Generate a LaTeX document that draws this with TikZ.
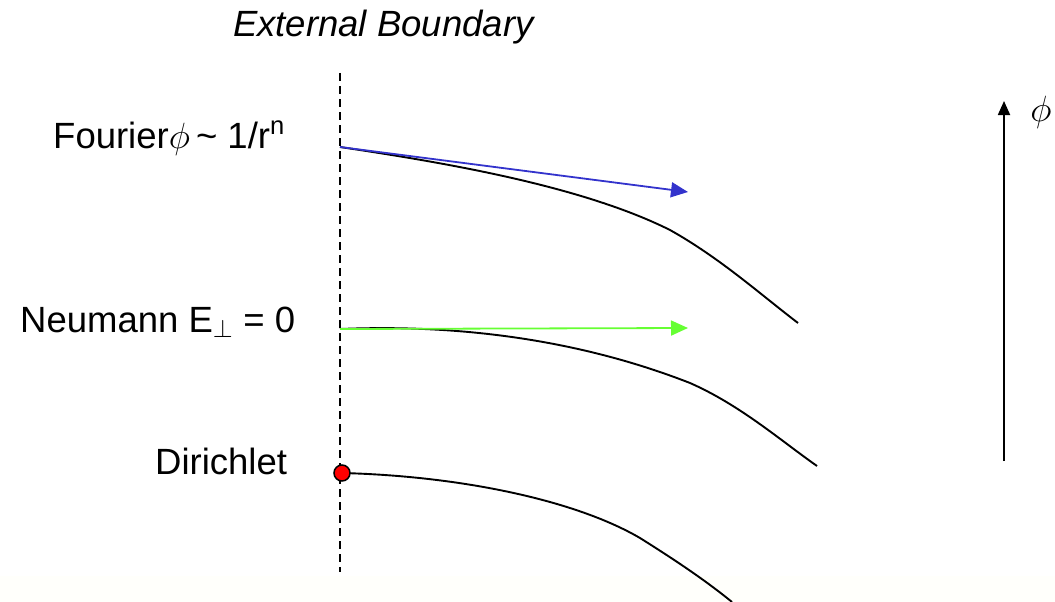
\RequirePackage{fix-cm}
\documentclass[tikz,border=0pt]{standalone}
\usepackage{fontspec}
\setmainfont{Liberation Sans}
\usetikzlibrary{arrows.meta}
\definecolor{arrowblue}{RGB}{51,51,204}
\definecolor{arrowgreen}{RGB}{102,255,51}
\definecolor{bandtint}{RGB}{255,255,251}
\tikzset{
  lbl/.style={anchor=base west, inner sep=0pt, font=\fontsize{36.5}{44}\selectfont},
  curveline/.style={line width=1.9pt, black},
  boundary/.style={line width=1.9pt, dash pattern=on 8pt off 5pt},
  bcarrow/.style={line width=1.8pt, -{Triangle[length=17pt,width=15pt]}},
}
\begin{document}
\begin{tikzpicture}[x=1pt,y=-1pt]
\useasboundingbox (0,0) rectangle (1055,602);
\fill[bandtint] (0,576) rectangle (1055,602);
% labels
\node[lbl] (title) at (233,37) {\itshape External Boundary};
\node[lbl] (fourier) at (53,148) {Fourier$\phi$\,\textasciitilde\ 1/r\textsuperscript{n}};
\node[lbl] (neumann) at (20,332) {Neumann E$_{\perp}$ = 0};
\node[lbl] (dirichlet) at (155,474) {Dirichlet};
% boundary line
\coordinate (btop) at (340,73);
\coordinate (bbot) at (340,572);
\draw[boundary] (btop) -- (bbot);
% start points
\coordinate (f0) at (340,147);
\coordinate (n0) at (340,329);
\coordinate (d0) at (342,473);
\coordinate (fa) at (688,192);
\coordinate (na) at (688,328);
\coordinate (f1) at (670,230);
\coordinate (f2) at (798,323);
\coordinate (n1) at (690,383);
\coordinate (n2) at (817,466);
\coordinate (d1) at (640,538);
\coordinate (d2) at (732,602);
% curves
\draw[curveline] (f0) .. controls (440,162) and (580,185) .. (f1)
                      .. controls (720,258) and (760,294) .. (f2);
\draw[curveline] (n0) .. controls (460,324) and (580,340) .. (n1)
                      .. controls (740,405) and (780,440) .. (n2);
\draw[curveline] (d0) .. controls (460,476) and (575,500) .. (d1)
                      .. controls (675,560) and (705,580) .. (d2);
% arrows
\draw[bcarrow, arrowblue] (f0) -- (fa);
\draw[bcarrow, arrowgreen] (n0) -- (na);
% dirichlet dot
\node[circle, fill=red, draw=black, line width=1.5pt, minimum size=16pt, inner sep=0pt] (dot) at (d0) {};
% phi axis
\coordinate (pbot) at (1004,461);
\coordinate (ptop) at (1004,101);
\draw[line width=1.8pt, -{Triangle[length=14pt,width=12pt]}] (pbot) -- (ptop);
\node[inner sep=0pt, font=\fontsize{36.5}{44}\selectfont] (philbl) at (1041,112) {$\phi$};
\end{tikzpicture}
\end{document}
